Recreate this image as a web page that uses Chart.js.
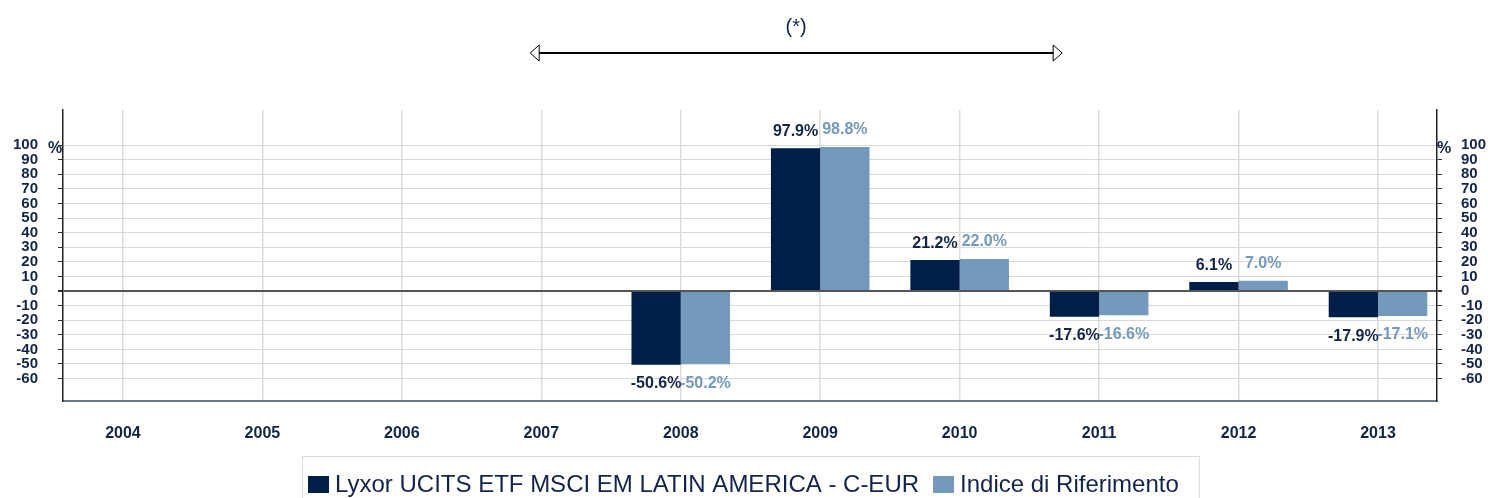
<!DOCTYPE html>
<html>
<head>
<meta charset="utf-8">
<script src="https://cdn.jsdelivr.net/npm/chart.js@4.4.1/dist/chart.umd.min.js"></script>
<style>
body{margin:0;background:#fff}
canvas{display:block}
</style>
</head>
<body>
<canvas id="chart" width="1488" height="498"></canvas>
<script>

/* DATA */

const years=["2004","2005","2006","2007","2008","2009","2010","2011","2012","2013"]
const fundValues=[null,null,null,null,-50.6,97.9,21.2,-17.6,6.1,-17.9]
const indexValues=[null,null,null,null,-50.2,98.8,22.0,-16.6,7.0,-17.1]
const seriesNames=["Lyxor UCITS ETF MSCI EM LATIN AMERICA - C-EUR","Indice di Riferimento"]
const footnote="(*)"

const navy="#13244a"
const dark="#001e48"
const light="#7399bd"
const font="Arial, 'Liberation Sans', sans-serif"

const ctx=document.getElementById("chart").getContext("2d")

function toPoints(vals){
return vals.map((v,i)=>({x:i,y:v}))
}


/* PLUGIN: value labels, % units, arrow, legend */

const extras={
id:"extras",

afterDatasetsDraw(chart){

const c=chart.ctx
c.save()
c.font="bold 16px "+font
c.textAlign="center"
c.textBaseline="middle"

chart.data.datasets.forEach((ds,di)=>{
const meta=chart.getDatasetMeta(di)
c.fillStyle=di===0?navy:light
meta.data.forEach((bar,i)=>{
const v=ds.data[i].y
if(v===null) return
const y=v>=0?bar.y-17:bar.y+19
c.fillText(v.toFixed(1)+"%",bar.x,y)
})
})

c.restore()

},

afterDraw(chart){

const c=chart.ctx
const x=chart.scales.x
const y=chart.scales.y
const area=chart.chartArea

c.save()

// % units next to the 100 tick
c.font="bold 16px "+font
c.fillStyle=navy
c.textBaseline="middle"
c.textAlign="center"
const y100=y.getPixelForValue(100)+3
c.fillText("%",area.left-8,y100)
c.fillText("%",area.right+7,y100)

// footnote and arrow
const a0=x.getPixelForValue(2.92)
const a1=x.getPixelForValue(6.735)
const ay=53
c.font="20px "+font
c.fillText(footnote,(a0+a1)/2,27)

c.strokeStyle="#000"
c.lineWidth=2
c.beginPath()
c.moveTo(a0+8,ay)
c.lineTo(a1-8,ay)
c.stroke()

c.lineWidth=1
c.fillStyle="#fff"
c.beginPath()
c.moveTo(a0,ay)
c.lineTo(a0+9,ay-8)
c.lineTo(a0+9,ay+8)
c.closePath()
c.fill()
c.stroke()
c.beginPath()
c.moveTo(a1,ay)
c.lineTo(a1-9,ay-8)
c.lineTo(a1-9,ay+8)
c.closePath()
c.fill()
c.stroke()

// legend
c.font="24px "+font
const items=chart.data.datasets.map(ds=>({label:ds.label,color:ds.backgroundColor,w:c.measureText(ds.label).width}))
let total=6
items.forEach((it,i)=>{ total+=21+6+it.w+(i<items.length-1?14:20) })
const left=Math.round((area.left+area.right)/2-total/2)
c.strokeStyle="#d9d9d9"
c.lineWidth=1
c.strokeRect(left+0.5,456.5,total,60)

let px=left+6
c.textAlign="left"
c.textBaseline="alphabetic"
items.forEach(it=>{
c.fillStyle=it.color
c.fillRect(px,476,21,17)
px+=27
c.fillStyle=navy
c.fillText(it.label,px,492)
px+=it.w+14
})

c.restore()

}
}


/* CHART */

const yAxis=(pos)=>({
type:"linear",
position:pos,
min:-75.4,
max:124.1,
afterBuildTicks:s=>{ s.ticks=s.ticks.filter(t=>t.value>=-60&&t.value<=100) },
afterFit:s=>{ s.width=pos==="left"?63:51 },
border:{display:true,color:"#222",width:1.5},
grid:{
drawOnChartArea:pos==="left",
color:g=>g.tick&&g.tick.value===0?"#555":"#d9d9d9",
lineWidth:g=>g.tick&&g.tick.value===0?2:1,
tickColor:"#333",
tickLength:5
},
ticks:{
stepSize:10,
includeBounds:false,
autoSkip:false,
padding:pos==="left"?20:19,
color:navy,
font:{family:font,size:15,weight:"bold",lineHeight:1},
callback:v=>String(v)
}
})

new Chart(ctx,{
type:"bar",
data:{
datasets:[{
label:seriesNames[0],
data:toPoints(fundValues),
backgroundColor:dark,
yAxisID:"y"
},{
label:seriesNames[1],
data:toPoints(indexValues),
backgroundColor:light,
yAxisID:"y"
}]
},
options:{
responsive:false,
animation:false,
categoryPercentage:0.707,
barPercentage:1,
layout:{padding:{top:110,left:0,right:0,bottom:0}},
plugins:{legend:{display:false},tooltip:{enabled:false}},
scales:{
x:{
type:"linear",
min:-0.43,
max:9.423,
offset:false,
afterFit:s=>{ s.height=97 },
border:{display:true,color:"#6b7a8f",width:2},
grid:{offset:false,color:"#dcdcdc",lineWidth:1.5,drawTicks:false},
ticks:{
stepSize:1,
includeBounds:false,
autoSkip:false,
maxRotation:0,
padding:23,
color:navy,
font:{family:font,size:16,weight:"bold"},
callback:v=>Number.isInteger(v)?years[v]:""
}
},
y:yAxis("left"),
y2:yAxis("right")
}
},
plugins:[extras]
})

</script>
</body>
</html>
